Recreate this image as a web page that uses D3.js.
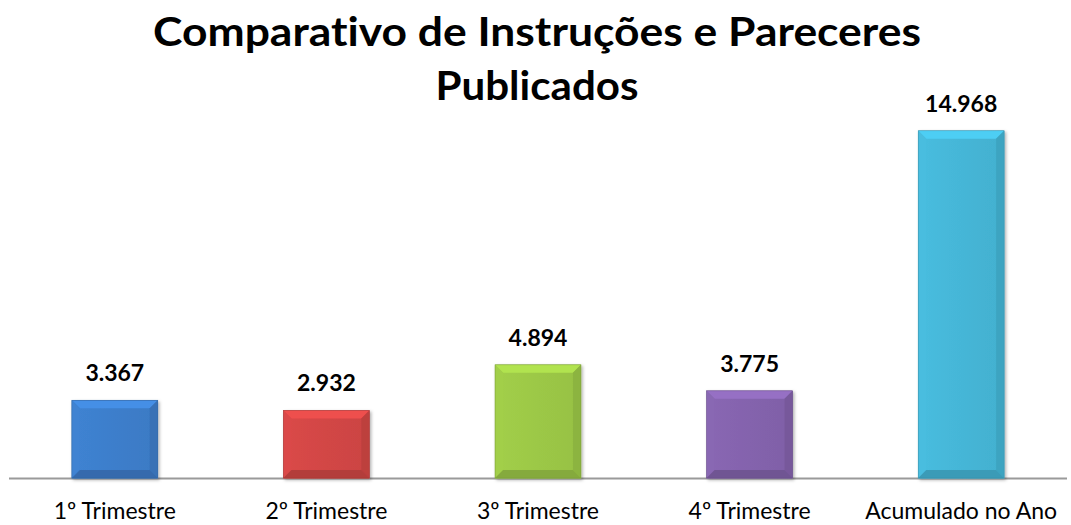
<!DOCTYPE html>
<html>
<head>
<meta charset="utf-8">
<script src="https://cdn.jsdelivr.net/npm/d3@7"></script>
<style>
  body { margin: 0; background: #fff; }
  text { font-family: Lato, "Open Sans", sans-serif; font-variant-ligatures: none; }
</style>
</head>
<body>
<div id="chart"></div>
<script>
// data
const categories = ["1º Trimestre", "2º Trimestre", "3º Trimestre", "4º Trimestre", "Acumulado no Ano"];
const values = [3367, 2932, 4894, 3775, 14968];
const titleLines = ["Comparativo de Instruções e Pareceres", "Publicados"];

const barColors = ["#3d7ecb", "#d24645", "#9cc846", "#8463ad", "#45b6d7"];

(function(){
    const svgWidth = 1071,
          svgHeight = 525;

    const svg = d3.select("#chart")
        .append("svg")
        .attr("width", svgWidth)
        .attr("height", svgHeight);

    const ptBR = d3.formatLocale({decimal: ",", thousands: ".", grouping: [3], currency: ["R$", ""]});
    const fmt = ptBR.format(",d");

    const x = d3.scaleBand()
        .domain(categories)
        .range([9, 1067])
        .paddingInner(0.594)
        .paddingOuter(0.297);

    const y = d3.scaleLinear()
        .domain([0, 15000])
        .range([478.5, 130]);

    const defs = svg.append("defs");

    // soft shadow under bars
    const shadow = defs.append("filter").attr("id", "shadow")
        .attr("x", "-10%").attr("y", "-10%").attr("width", "130%").attr("height", "130%");
    shadow.append("feDropShadow")
        .attr("dx", 1.5).attr("dy", 1.5).attr("stdDeviation", 1.5)
        .attr("flood-color", "#000").attr("flood-opacity", 0.3);

    // gradient for each bar
    barColors.forEach(function(c, i) {
        const g = defs.append("linearGradient").attr("id", "grad" + i)
            .attr("x1", 0).attr("y1", 0).attr("x2", 1).attr("y2", 0);
        g.append("stop").attr("offset", "0%").attr("stop-color", d3.color(c).brighter(0.1));
        g.append("stop").attr("offset", "50%").attr("stop-color", c);
        g.append("stop").attr("offset", "100%").attr("stop-color", d3.color(c).darker(0.1));
    });

    // title
    svg.append("g").selectAll("text")
        .data(titleLines)
        .join("text")
        .attr("x", 537)
        .attr("y", (d, i) => 46 + i * 54)
        .attr("text-anchor", "middle")
        .attr("font-size", 40)
        .attr("font-weight", "bold")
        .attr("fill", "#000")
        .attr("textLength", (d, i) => i === 0 ? 768 : 203)
        .attr("lengthAdjust", "spacingAndGlyphs")
        .text(d => d);

    // axis line
    svg.append("line")
        .attr("x1", 9).attr("x2", 1067)
        .attr("y1", y(0)).attr("y2", y(0))
        .attr("stroke", "#9a9a9a")
        .attr("stroke-width", 2);

    // bars with bevel
    const bev = 8;
    const bars = svg.append("g").selectAll("g")
        .data(values)
        .join("g")
        .attr("filter", "url(#shadow)");

    bars.append("rect")
        .attr("x", (d, i) => x(categories[i]))
        .attr("y", d => y(d))
        .attr("width", x.bandwidth())
        .attr("height", d => y(0) - y(d))
        .attr("fill", (d, i) => `url(#grad${i})`);

    bars.each(function(d, i) {
        const g = d3.select(this);
        const x0 = x(categories[i]), x1 = x0 + x.bandwidth();
        const y0 = y(d), y1 = y(0) - 0.5;
        const c = d3.color(barColors[i]);
        const pts = [
            [[x0, y0], [x1, y0], [x1 - bev, y0 + bev], [x0 + bev, y0 + bev], c.brighter(0.35)],
            [[x0, y0], [x0 + bev, y0 + bev], [x0 + bev, y1 - bev], [x0, y1], c.brighter(0.1)],
            [[x1, y0], [x1 - bev, y0 + bev], [x1 - bev, y1 - bev], [x1, y1], c.darker(0.3)],
            [[x0, y1], [x0 + bev, y1 - bev], [x1 - bev, y1 - bev], [x1, y1], c.darker(0.45)]
        ];
        pts.forEach(function(p) {
            g.append("polygon")
                .attr("points", p.slice(0, 4).map(q => q.join(",")).join(" "))
                .attr("fill", p[4]);
        });
        g.append("rect")
            .attr("x", x0).attr("y", y0)
            .attr("width", x1 - x0).attr("height", y1 - y0)
            .attr("fill", "none")
            .attr("stroke", c.darker(0.6))
            .attr("stroke-width", 0.6);
    });

    // value labels
    svg.append("g").selectAll("text")
        .data(values)
        .join("text")
        .attr("x", (d, i) => x(categories[i]) + x.bandwidth() / 2)
        .attr("y", d => y(d) - 19)
        .attr("text-anchor", "middle")
        .attr("font-size", 23)
        .attr("font-weight", "bold")
        .attr("fill", "#000")
        .text(d => fmt(d));

    // category labels
    svg.append("g").selectAll("text")
        .data(categories)
        .join("text")
        .attr("x", d => x(d) + x.bandwidth() / 2)
        .attr("y", 519)
        .attr("text-anchor", "middle")
        .attr("font-size", 23)
        .attr("fill", "#000")
        .text(d => d);
})();
</script>
</body>
</html>
